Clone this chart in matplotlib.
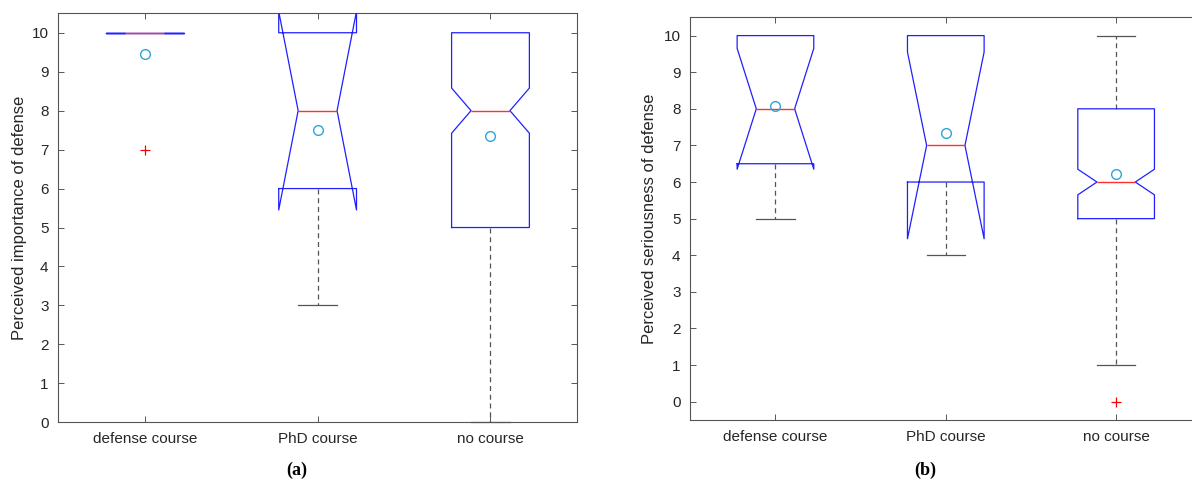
import matplotlib
matplotlib.use('Agg')
import matplotlib.pyplot as plt

plt.rcParams['font.family'] = ['Liberation Sans', 'DejaVu Sans']

'''Values read off the two panels'''
groups = ['defense course', 'PhD course', 'no course']

# (a) perceived importance
imp_med = [10, 8, 8]
imp_q1 = [10, 6, 5]
imp_q3 = [10, 10, 10]
imp_cilo = [10, 5.45, 7.42]
imp_cihi = [10, 10.55, 8.58]
imp_wlo = [10, 3, 0]
imp_whi = [10, 10, 10]
imp_mean = [9.45, 7.5, 7.35]
imp_out = [[7], [], []]

# (b) perceived seriousness
ser_med = [8, 7, 6]
ser_q1 = [6.5, 6, 5]
ser_q3 = [10, 10, 8]
ser_cilo = [6.35, 4.45, 5.65]
ser_cihi = [9.65, 9.55, 6.35]
ser_wlo = [5, 4, 1]
ser_whi = [10, 10, 10]
ser_mean = [8.09, 7.33, 6.23]
ser_out = [[], [], [0]]


def make_stats(med, q1, q3, cilo, cihi, wlo, whi, mean, out):
    stats = []
    for i in range(len(med)):
        stats.append(dict(med=med[i], q1=q1[i], q3=q3[i], cilo=cilo[i], cihi=cihi[i],
                          whislo=wlo[i], whishi=whi[i], mean=mean[i], fliers=out[i]))
    return stats


def draw_panel(ax, stats, ylab, ylim):
    bp = ax.bxp(stats, positions=[1, 2, 3], widths=0.45, capwidths=0.225,
                shownotches=True, showmeans=True, meanline=False,
                boxprops=dict(color='#2020ff', linewidth=0.9),
                medianprops=dict(color='#ff3030', linewidth=1.0),
                whiskerprops=dict(color='#555555', linewidth=0.9, linestyle=(0, (4, 3))),
                capprops=dict(color='#555555', linewidth=0.9),
                meanprops=dict(marker='o', markerfacecolor='none', markeredgecolor='#2fa4d8',
                               markersize=7, markeredgewidth=1.0),
                flierprops=dict(marker='+', markeredgecolor='#ff0000', markersize=7,
                                markeredgewidth=0.9, linestyle='none'))
    # MATLAB stacking: whiskers/caps under the box, median on top
    for w in bp['whiskers']:
        w.set_zorder(2)
    for i, st in enumerate(stats):
        for c in bp['caps'][2 * i:2 * i + 2]:
            c.set_zorder(2)
            c.set_clip_on(False)
            y = c.get_ydata()[0]
            # a cap lying on the box edge is hidden behind it in the original
            if y == st['q1'] or y == st['q3']:
                c.set_visible(False)
    for b in bp['boxes']:
        b.set_zorder(3)
    for m in bp['medians']:
        m.set_zorder(4)
    for m in bp['means']:
        m.set_zorder(5)
    ax.set_xlim(0.5, 3.5)
    ax.set_ylim(*ylim)
    ax.set_yticks(range(0, 11))
    ax.set_xticks([1, 2, 3])
    ax.set_xticklabels(groups)
    ax.set_ylabel(ylab, fontsize=12, color='#262626')
    ax.tick_params(direction='in', length=4, width=0.7, colors='#555555',
                   labelcolor='#262626', labelsize=11, top=True, right=True, pad=7)
    for s in ax.spines.values():
        s.set_color('#555555')
        s.set_linewidth(0.8)
        s.set_zorder(1)


fig = plt.figure(figsize=(11.92, 4.79), dpi=100)
ax1 = fig.add_axes([0.0489, 0.1184, 0.4351, 0.8539])
ax2 = fig.add_axes([0.5791, 0.1232, 0.4287, 0.8407])

draw_panel(ax1, make_stats(imp_med, imp_q1, imp_q3, imp_cilo, imp_cihi, imp_wlo, imp_whi, imp_mean, imp_out),
           'Perceived importance of defense', (0, 10.5))
draw_panel(ax2, make_stats(ser_med, ser_q1, ser_q3, ser_cilo, ser_cihi, ser_wlo, ser_whi, ser_mean, ser_out),
           'Perceived seriousness of defense', (-0.5, 10.5))
ax1.yaxis.set_label_coords(-0.061, 0.5)
ax2.yaxis.set_label_coords(-0.065, 0.5)

fig.text(297 / 1192, 0.0188, '(a)', family=['Liberation Serif', 'DejaVu Serif'], fontweight='bold',
         fontsize=13, ha='center', va='center')
fig.text(925 / 1192, 0.0188, '(b)', family=['Liberation Serif', 'DejaVu Serif'], fontweight='bold',
         fontsize=13, ha='center', va='center')

fig.savefig('out.png', dpi=100)
